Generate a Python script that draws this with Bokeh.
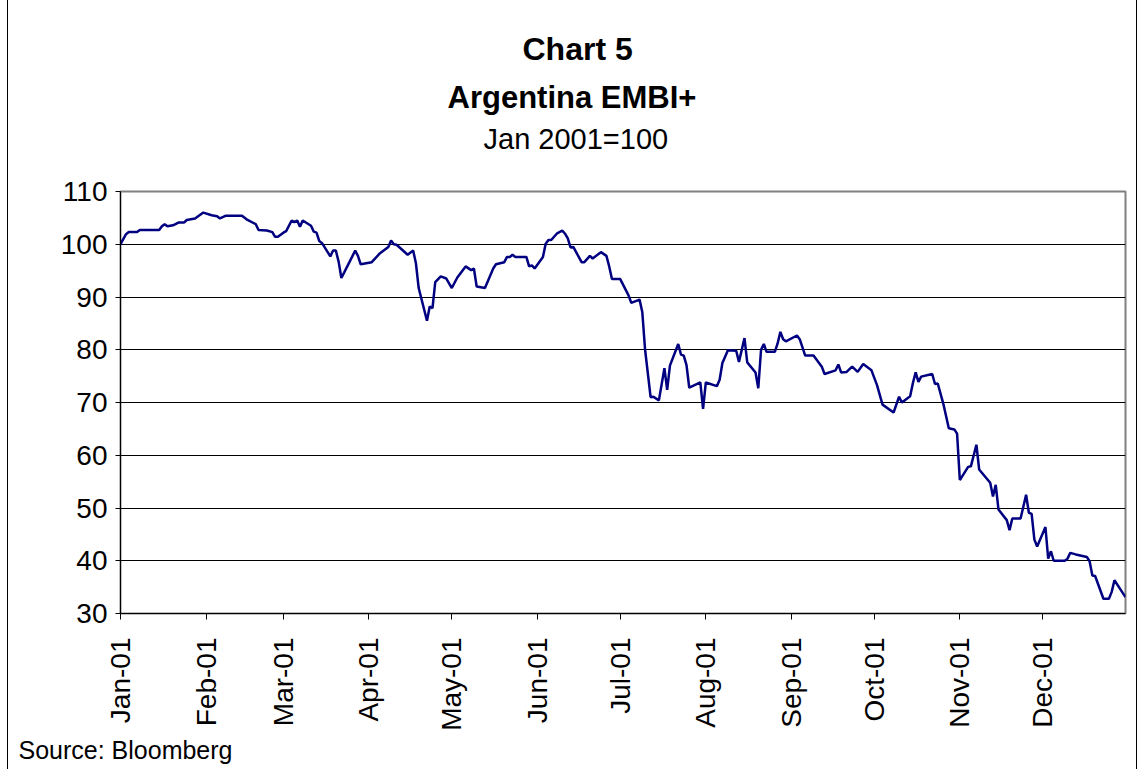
import datetime as dt
import calendar
from math import pi
from bokeh.plotting import figure
from bokeh.models import Range1d, FixedTicker, Title, InlineStyleSheet
from bokeh.embed import file_html
from bokeh.resources import INLINE

# ---- data ----
dates = [
    "2001-01-01", "2001-01-03", "2001-01-04", "2001-01-07", "2001-01-08", "2001-01-15",
    "2001-01-16", "2001-01-17", "2001-01-18", "2001-01-20", "2001-01-22", "2001-01-24",
    "2001-01-25", "2001-01-28", "2001-01-31", "2001-02-03", "2001-02-05", "2001-02-06",
    "2001-02-08", "2001-02-14", "2001-02-16", "2001-02-19", "2001-02-20", "2001-02-23",
    "2001-02-25", "2001-02-26", "2001-02-27", "2001-03-01", "2001-03-02", "2001-03-04",
    "2001-03-05", "2001-03-06", "2001-03-07", "2001-03-08", "2001-03-11", "2001-03-12",
    "2001-03-13", "2001-03-14", "2001-03-15", "2001-03-18", "2001-03-19", "2001-03-20",
    "2001-03-21", "2001-03-22", "2001-03-25", "2001-03-27", "2001-03-28", "2001-03-29",
    "2001-04-02", "2001-04-05", "2001-04-08", "2001-04-09", "2001-04-10", "2001-04-11",
    "2001-04-15", "2001-04-17", "2001-04-18", "2001-04-19", "2001-04-22", "2001-04-23",
    "2001-04-24", "2001-04-25", "2001-04-27", "2001-04-29", "2001-05-01", "2001-05-03",
    "2001-05-06", "2001-05-08", "2001-05-09", "2001-05-10", "2001-05-13", "2001-05-16",
    "2001-05-17", "2001-05-20", "2001-05-21", "2001-05-22", "2001-05-23", "2001-05-24",
    "2001-05-28", "2001-05-29", "2001-05-30", "2001-05-31", "2001-06-03", "2001-06-04",
    "2001-06-05", "2001-06-06", "2001-06-08", "2001-06-10", "2001-06-11", "2001-06-12",
    "2001-06-13", "2001-06-14", "2001-06-17", "2001-06-18", "2001-06-20", "2001-06-21",
    "2001-06-24", "2001-06-26", "2001-06-27", "2001-06-28", "2001-07-01", "2001-07-04",
    "2001-07-05", "2001-07-08", "2001-07-09", "2001-07-10", "2001-07-12", "2001-07-13",
    "2001-07-15", "2001-07-17", "2001-07-18", "2001-07-19", "2001-07-22", "2001-07-23",
    "2001-07-24", "2001-07-25", "2001-07-26", "2001-07-30", "2001-07-31", "2001-08-01",
    "2001-08-05", "2001-08-06", "2001-08-07", "2001-08-09", "2001-08-12", "2001-08-13",
    "2001-08-15", "2001-08-16", "2001-08-19", "2001-08-20", "2001-08-21", "2001-08-22",
    "2001-08-23", "2001-08-26", "2001-08-27", "2001-08-28", "2001-08-29", "2001-08-30",
    "2001-09-03", "2001-09-04", "2001-09-06", "2001-09-09", "2001-09-12", "2001-09-13",
    "2001-09-17", "2001-09-18", "2001-09-19", "2001-09-21", "2001-09-23", "2001-09-25",
    "2001-09-27", "2001-09-30", "2001-10-02", "2001-10-04", "2001-10-08", "2001-10-10",
    "2001-10-11", "2001-10-14", "2001-10-15", "2001-10-16", "2001-10-17", "2001-10-18",
    "2001-10-22", "2001-10-23", "2001-10-24", "2001-10-26", "2001-10-28", "2001-10-30",
    "2001-10-31", "2001-11-01", "2001-11-04", "2001-11-05", "2001-11-07", "2001-11-08",
    "2001-11-12", "2001-11-13", "2001-11-14", "2001-11-15", "2001-11-18", "2001-11-19",
    "2001-11-20", "2001-11-23", "2001-11-25", "2001-11-26", "2001-11-27", "2001-11-28",
    "2001-11-29", "2001-12-02", "2001-12-03", "2001-12-04", "2001-12-05", "2001-12-09",
    "2001-12-10", "2001-12-11", "2001-12-13", "2001-12-17", "2001-12-18", "2001-12-19",
    "2001-12-20", "2001-12-23", "2001-12-25", "2001-12-26", "2001-12-27", "2001-12-31",
]
embi = [
    100.0, 101.9, 102.3, 102.3, 102.7, 102.7,
    103.4, 103.8, 103.4, 103.6, 104.1, 104.1,
    104.6, 104.9, 106.0, 105.5, 105.3, 104.9,
    105.4, 105.4, 104.6, 103.8, 102.7, 102.6,
    102.3, 101.4, 101.4, 102.2, 102.5, 104.5,
    104.2, 104.5, 103.3, 104.5, 103.5, 102.4,
    102.2, 100.6, 100.2, 97.7, 98.8, 98.8,
    96.7, 93.6, 96.7, 98.8, 97.8, 96.2,
    96.6, 98.3, 99.5, 100.7, 100.0, 99.9,
    98.0, 98.8, 96.4, 91.7, 85.5, 88.2,
    87.9, 92.8, 93.9, 93.5, 91.7, 93.7,
    95.8, 95.1, 95.4, 92.0, 91.7, 95.4,
    96.2, 96.6, 97.6, 97.6, 98.0, 97.6,
    97.6, 95.8, 96.0, 95.4, 97.6, 100.1,
    100.8, 100.8, 102.0, 102.6, 102.0, 101.1,
    99.4, 99.5, 96.6, 96.6, 97.8, 97.3,
    98.5, 97.8, 95.8, 93.4, 93.4, 90.3,
    88.9, 89.5, 87.1, 80.0, 71.0, 71.1,
    70.4, 76.5, 72.4, 77.0, 81.1, 79.1,
    78.9, 77.1, 72.8, 73.8, 68.8, 73.8,
    73.1, 74.3, 77.5, 79.9, 79.8, 77.7,
    82.2, 77.6, 75.7, 72.7, 80.0, 81.1,
    79.6, 79.6, 81.2, 83.4, 82.0, 81.6,
    82.7, 82.0, 78.9, 78.9, 76.8, 75.4,
    76.1, 77.2, 75.7, 75.8, 76.8, 75.8,
    77.3, 76.1, 73.3, 69.6, 68.1, 71.1,
    70.0, 71.2, 73.7, 75.7, 73.9, 74.9,
    75.4, 73.5, 73.6, 69.8, 65.1, 64.9,
    64.1, 55.3, 57.8, 57.9, 62.0, 57.3,
    54.8, 52.2, 54.4, 49.7, 47.7, 45.8,
    48.0, 48.0, 52.5, 49.1, 48.9, 44.0,
    42.7, 46.4, 40.4, 41.8, 40.0, 40.0,
    40.4, 41.5, 41.2, 40.7, 39.9, 37.2,
    37.1, 32.8, 32.8, 34.1, 36.3, 33.1,
]
month_starts = ["2001-01-01", "2001-02-01", "2001-03-01", "2001-04-01", "2001-05-01", "2001-06-01",
                "2001-07-01", "2001-08-01", "2001-09-01", "2001-10-01", "2001-11-01", "2001-12-01"]
month_labels = ["Jan-01", "Feb-01", "Mar-01", "Apr-01", "May-01", "Jun-01",
                "Jul-01", "Aug-01", "Sep-01", "Oct-01", "Nov-01", "Dec-01"]
y_ticks = [30, 40, 50, 60, 70, 80, 90, 100, 110]

title_lines = ["Chart 5", "Argentina EMBI+", "Jan 2001=100"]
source_text = "Source: Bloomberg"


def to_dt(s):
    return dt.datetime.strptime(s, "%Y-%m-%d")


def to_ms(s):
    return calendar.timegm(to_dt(s).timetuple()) * 1000.0


W, H = 1138, 769
FONT = "Liberation Sans"
TICK_SIZE = "28px"

x_dates = [to_dt(s) for s in dates]

p = figure(
    width=W, height=H,
    title=None,
    x_axis_type="datetime",
    x_range=Range1d(to_dt("2001-01-01"), to_dt("2001-12-31")),
    y_range=Range1d(30, 110),
    output_backend="svg",
    toolbar_location=None,
    min_border_left=120, min_border_right=13,
    min_border_top=191, min_border_bottom=156,
)
# outer chart border (left / right edges of the original chart box)
p.stylesheets = [InlineStyleSheet(css=(
    ":host { position: relative; }"
    ":host::after { content: ''; position: absolute; left: 7px; right: 1px; top: -2px; bottom: -2px;"
    " border-left: 1px solid #000; border-right: 1px solid #000; pointer-events: none; z-index: 100; }"
))]
p.background_fill_color = "white"
p.border_fill_color = "white"
p.outline_line_color = "#808080"
p.outline_line_width = 2

p.xgrid.visible = False
p.ygrid.grid_line_color = "black"
p.ygrid.grid_line_width = 1
p.ygrid.ticker = FixedTicker(ticks=y_ticks)

p.yaxis.ticker = FixedTicker(ticks=y_ticks)
p.yaxis.axis_line_color = "black"
p.yaxis.axis_line_width = 1
p.yaxis.major_tick_in = 0
p.yaxis.major_tick_out = 5
p.yaxis.minor_tick_line_color = None
p.yaxis.major_label_text_font = FONT
p.yaxis.major_label_text_font_size = TICK_SIZE
p.yaxis.major_label_text_color = "black"
p.yaxis.major_label_standoff = 8

tick_ms = [to_ms(s) for s in month_starts]
p.xaxis.ticker = FixedTicker(ticks=tick_ms)
p.xaxis.major_label_overrides = {t: lab for t, lab in zip(tick_ms, month_labels)}
p.xaxis.major_label_orientation = pi / 2
p.xaxis.axis_line_color = "black"
p.xaxis.axis_line_width = 1
p.xaxis.major_tick_in = 0
p.xaxis.major_tick_out = 6
p.xaxis.minor_tick_line_color = None
p.xaxis.major_label_text_font = FONT
p.xaxis.major_label_text_font_size = TICK_SIZE
p.xaxis.major_label_text_color = "black"
p.xaxis.major_label_standoff = 18

p.line(x=x_dates, y=embi, line_color="#000080", line_width=2.5)

# spacer between the title block and the plot frame
p.add_layout(Title(text=" ", standoff=22, text_font=FONT, text_font_size="10px"), "above")

# titles stacked above the frame (first added sits closest to the frame)
title_specs = [
    (title_lines[2], "normal", "29px", 4, 363),
    (title_lines[1], "bold", "31px", 7, 327),
    (title_lines[0], "bold", "32px", 15, 402),
]
for txt, style, size, standoff, off in title_specs:
    p.add_layout(Title(text=txt, align="left", offset=off, standoff=standoff,
                       text_font=FONT, text_font_style=style, text_font_size=size,
                       text_color="black"), "above")

p.add_layout(Title(text=source_text, align="left", offset=-102, standoff=0,
                   text_font=FONT, text_font_style="normal", text_font_size="25px",
                   text_color="black"), "below")

open("out.html", "w").write(file_html(p, INLINE))
